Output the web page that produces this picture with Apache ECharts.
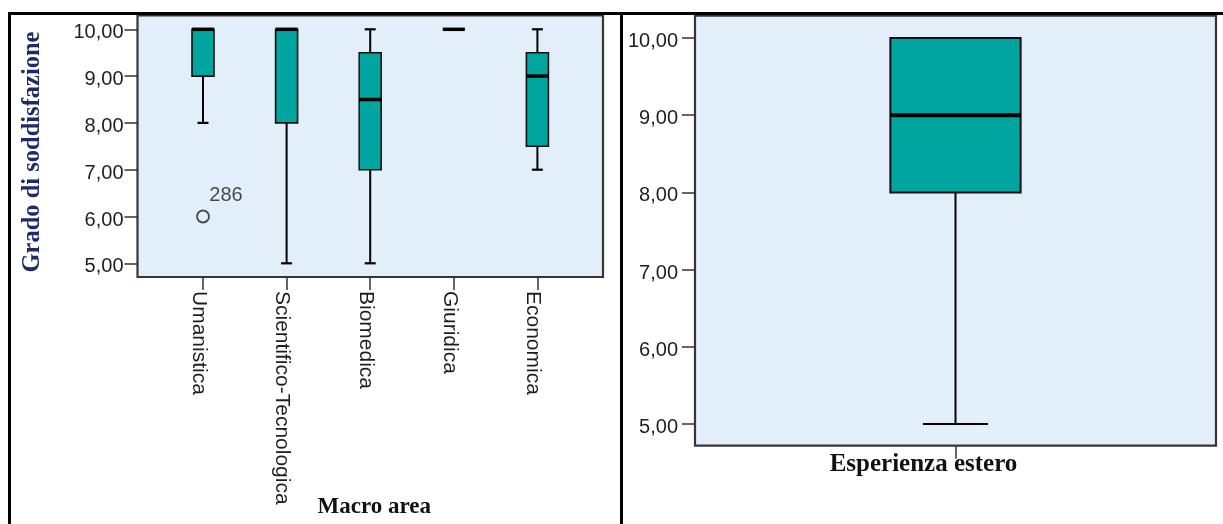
<!DOCTYPE html>
<html>
<head>
<meta charset="utf-8">
<script src="https://cdn.jsdelivr.net/npm/echarts@6/dist/echarts.min.js"></script>
<style>
html,body{margin:0;padding:0;background:#ffffff;}
#chart{width:1223px;height:524px;}
</style>
</head>
<body>
<div id="chart"></div>
<script>
// ---- Data: left panel (Macro area) ----
const categories = ['Umanistica', 'Scientifico-Tecnologica', 'Biomedica', 'Giuridica', 'Economica'];
const whiskerLow  = [8, 5, 5, 10, 7];
const quartile1   = [9, 8, 7, 10, 7.5];
const medians     = [10, 10, 8.5, 10, 9];
const quartile3   = [10, 10, 9.5, 10, 9.5];
const whiskerHigh = [10, 10, 10, 10, 10];
const outlierCategory = ['Umanistica'];
const outlierValue    = [6];
const outlierCase     = ['286'];

// ---- Data: right panel (Esperienza estero) ----
const expCategories  = ['Esperienza estero'];
const expWhiskerLow  = [5];
const expQuartile1   = [8];
const expMedian      = [9];
const expQuartile3   = [10];
const expWhiskerHigh = [10];

// ---- Axis ticks ----
const yTicks = [5, 6, 7, 8, 9, 10];

const fmt = v => '{t|' + Number(v).toFixed(2).replace('.', ',') + '}';

const leftBoxes = categories.map((c, i) => [i, whiskerLow[i], quartile1[i], medians[i], quartile3[i], whiskerHigh[i]]);
const rightBoxes = expCategories.map((c, i) => [i, expWhiskerLow[i], expQuartile1[i], expMedian[i], expQuartile3[i], expWhiskerHigh[i]]);
const outliers = outlierCategory.map((c, i) => [categories.indexOf(c), outlierValue[i], outlierCase[i]]);

const BOX_FILL = '#00a5a0';
const PLOT_BG = '#e2eefa';

function boxRenderer(boxRatio, capRatio, medianWidth, boxLine) {
  return function (params, api) {
    const idx = api.value(0);
    const lo = api.coord([idx, api.value(1)]);
    const q1 = api.coord([idx, api.value(2)]);
    const md = api.coord([idx, api.value(3)]);
    const q3 = api.coord([idx, api.value(4)]);
    const hi = api.coord([idx, api.value(5)]);
    const band = api.size([1, 0])[0];
    const bw = band * boxRatio;
    const cw = bw * capRatio;
    const cx = md[0];
    const line = (x1, y1, x2, y2, w) => ({
      type: 'line', shape: { x1, y1, x2, y2 },
      style: { stroke: '#000', lineWidth: w }
    });
    return {
      type: 'group',
      children: [
        line(cx, lo[1], cx, q1[1], 2),
        line(cx, q3[1], cx, hi[1], 2),
        line(cx - cw / 2, lo[1], cx + cw / 2, lo[1], 2.2),
        line(cx - cw / 2, hi[1], cx + cw / 2, hi[1], 2.2),
        {
          type: 'rect',
          shape: { x: cx - bw / 2, y: q3[1], width: bw, height: q1[1] - q3[1] },
          style: { fill: BOX_FILL, stroke: '#111', lineWidth: boxLine }
        },
        line(cx - bw / 2, md[1], cx + bw / 2, md[1], medianWidth)
      ]
    };
  };
}

const tickFont = { fontFamily: '"Liberation Sans", Arial, sans-serif', fontSize: 20, color: '#1e1e1e' };
const serifBold = { fontFamily: '"Liberation Serif", "Times New Roman", serif', fontWeight: 'bold' };
const yRich = { t: Object.assign({ padding: [7, 0, 0, 0] }, tickFont) };
const xRich = { c: Object.assign({}, tickFont, { fontSize: 21, padding: [9, 0, 0, 0] }) };

const chart = echarts.init(document.getElementById('chart'), null, { renderer: 'canvas' });

const option = {
  backgroundColor: '#ffffff',
  animation: false,
  grid: [
    { left: 137.5, top: 15.5, width: 465.5, height: 261.5, show: true, backgroundColor: PLOT_BG, borderColor: '#363636', borderWidth: 2.2, outerBoundsMode: 'none', containLabel: false },
    { left: 161.2, top: 29.3, width: 418, height: 234, outerBoundsMode: 'none', containLabel: false },
    { left: 695, top: 15.7, width: 521, height: 430, show: true, backgroundColor: PLOT_BG, borderColor: '#363636', borderWidth: 2.2, outerBoundsMode: 'none', containLabel: false },
    { left: 695, top: 38, width: 521, height: 386, outerBoundsMode: 'none', containLabel: false }
  ],
  xAxis: [
    { gridIndex: 0, type: 'value', show: false },
    {
      gridIndex: 1, type: 'category', data: categories, offset: 13.7,
      axisLine: { show: false },
      axisTick: { show: true, alignWithLabel: true, length: 13, lineStyle: { color: '#333', width: 1.5 } },
      axisLabel: Object.assign({ rotate: -90, margin: 14, interval: 0, formatter: v => '{c|' + v + '}', rich: xRich }, tickFont, { fontSize: 21 }),
      name: 'Macro area', nameLocation: 'middle', nameGap: 219, nameMoveOverlap: false,
      nameTextStyle: Object.assign({ fontSize: 23, color: '#111', padding: [0, 0, 0, 8] }, serifBold)
    },
    { gridIndex: 2, type: 'value', show: false },
    {
      gridIndex: 3, type: 'category', data: expCategories, offset: 21.7,
      axisLine: { show: false },
      axisTick: { show: true, alignWithLabel: true, length: 13, lineStyle: { color: '#333', width: 1.5 } },
      axisLabel: Object.assign({ margin: 6, fontSize: 25, color: '#111', padding: [0, 64, 0, 0] }, serifBold)
    }
  ],
  yAxis: [
    { gridIndex: 0, type: 'value', show: false },
    {
      gridIndex: 1, type: 'value', min: yTicks[0], max: yTicks[yTicks.length - 1], interval: 1, offset: 23.7,
      splitLine: { show: false },
      axisLine: { show: false },
      axisTick: { show: true, length: 13, lineStyle: { color: '#333', width: 1.5 } },
      axisLabel: Object.assign({ margin: 14, formatter: fmt, rich: yRich }, tickFont)
    },
    { gridIndex: 2, type: 'value', show: false },
    {
      gridIndex: 3, type: 'value', min: yTicks[0], max: yTicks[yTicks.length - 1], interval: 1,
      splitLine: { show: false },
      axisLine: { show: false },
      axisTick: { show: true, length: 13, lineStyle: { color: '#333', width: 1.5 } },
      axisLabel: Object.assign({ margin: 17, formatter: fmt, rich: yRich }, tickFont)
    }
  ],
  series: [
    {
      type: 'custom', xAxisIndex: 1, yAxisIndex: 1,
      renderItem: boxRenderer(0.263, 0.5, 3.5, 1.6),
      encode: { x: 0, y: [1, 2, 3, 4, 5] },
      data: leftBoxes, z: 3
    },
    {
      type: 'scatter', xAxisIndex: 1, yAxisIndex: 1,
      symbol: 'circle', symbolSize: 12,
      itemStyle: { color: 'rgba(0,0,0,0)', borderColor: '#222', borderWidth: 1.8 },
      label: {
        show: true, position: 'top', distance: 5, offset: [23, 1],
        formatter: p => p.data[2],
        fontFamily: '"Liberation Sans", Arial, sans-serif', fontSize: 20, color: '#1e1e1e'
      },
      data: outliers, z: 4
    },
    {
      type: 'custom', xAxisIndex: 3, yAxisIndex: 3,
      renderItem: boxRenderer(0.25, 0.5, 4, 2),
      encode: { x: 0, y: [1, 2, 3, 4, 5] },
      data: rightBoxes, z: 3
    }
  ],
  graphic: [
    { type: 'line', shape: { x1: 8, y1: 13.5, x2: 1223, y2: 13.5 }, style: { stroke: '#000', lineWidth: 3 }, z: 10 },
    { type: 'line', shape: { x1: 9.5, y1: 12, x2: 9.5, y2: 524 }, style: { stroke: '#000', lineWidth: 3 }, z: 10 },
    { type: 'line', shape: { x1: 621.5, y1: 12, x2: 621.5, y2: 524 }, style: { stroke: '#000', lineWidth: 3 }, z: 10 },
    {
      type: 'text', x: 33, y: 152, rotation: Math.PI / 2,
      style: Object.assign({ text: 'Grado di soddisfazione', fontSize: 24.5, fill: '#1f2a66', align: 'center', verticalAlign: 'middle' }, serifBold)
    }
  ]
};

chart.setOption(option);
</script>
</body>
</html>
